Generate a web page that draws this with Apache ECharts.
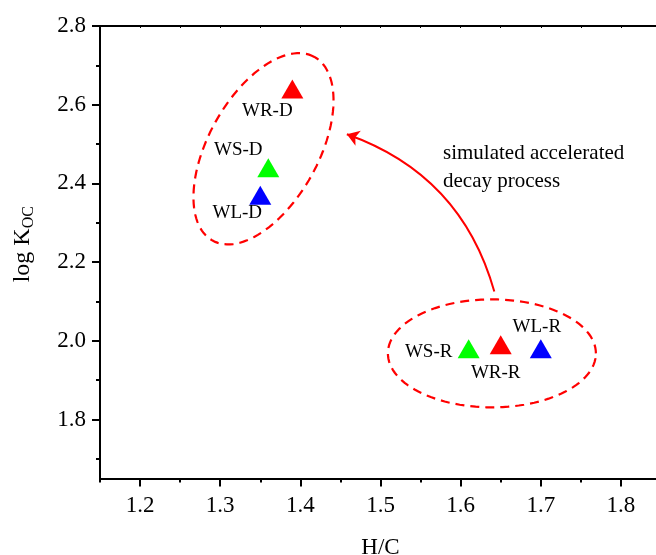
<!DOCTYPE html>
<html>
<head>
<meta charset="utf-8">
<script src="https://cdn.jsdelivr.net/npm/echarts@6/dist/echarts.min.js"></script>
<style>
html,body{margin:0;padding:0;background:#fff;}
#chart{width:656px;height:555px;}
</style>
</head>
<body>
<div id="chart"></div>
<script>
// ---- data ----
const sampleNames = ['WR-D', 'WS-D', 'WL-D', 'WS-R', 'WR-R', 'WL-R'];
const hcValues    = [1.39, 1.36, 1.35, 1.61, 1.65, 1.70];
const logKocValues = [2.64, 2.44, 2.37, 1.98, 1.99, 1.98];
const xTickLabels = ['1.2', '1.3', '1.4', '1.5', '1.6', '1.7', '1.8'];
const yTickLabels = ['1.8', '2.0', '2.2', '2.4', '2.6', '2.8'];
const groupCenters = [[1.354, 2.488], [1.639, 1.968]];   // dashed ellipses (data coords)
const arrowPath = [[1.642, 2.125], [1.458, 2.525]];       // decay arrow (data coords)
const noteAnchor = [1.578, 2.44];
const noteText = 'simulated accelerated\ndecay process';

// ---- styles ----
const markerColors = ['#ff0000', '#00ff00', '#0000ff', '#00ff00', '#ff0000', '#0000ff'];
const labelOffsets = [[-25, 22], [-30, -18], [-23, 18], [-40, 3], [-5, 28], [-4, -22]];
const ellipseShapes = [{rx: 105, ry: 55, rot: 61}, {rx: 104, ry: 54, rot: 0}];
const FONT = 'Liberation Serif';

// layout (pixels)
const L = 100, T = 26, W = 561, H = 452.5;
const XMIN = 1.15, XMAX = 1.85, YMIN = 1.65, YMAX = 2.8;
const pxX = W / (XMAX - XMIN), pxY = H / (YMAX - YMIN);

const chart = echarts.init(document.getElementById('chart'), null, {renderer: 'canvas'});

const blackLine = {show: true, lineStyle: {color: '#000', width: 2}};
const hidden = {show: false};

const scatterData = sampleNames.map((n, i) => ({
  name: n,
  value: [hcValues[i], logKocValues[i]],
  itemStyle: {color: markerColors[i], opacity: 1},
  label: {offset: labelOffsets[i]}
}));

const gridBase = {containLabel: false, outerBoundsMode: 'none'};

const option = {
  animation: false,
  backgroundColor: '#fff',
  grid: [
    Object.assign({left: L, top: T, width: W, height: H}, gridBase),
    Object.assign({left: L + (1.2 - XMIN) * pxX, top: T, width: (1.8 - 1.2) * pxX, height: H}, gridBase),
    Object.assign({left: L, top: T + (YMAX - 2.8) * pxY, width: W, height: (2.8 - 1.8) * pxY}, gridBase),
    Object.assign({left: L, top: T + (YMAX - 2.7) * pxY, width: W, height: (2.7 - 1.7) * pxY}, gridBase)
  ],
  xAxis: [
    {gridIndex: 0, type: 'value', min: XMIN, max: XMAX, interval: 0.1, position: 'bottom',
     axisLine: blackLine, axisTick: {show: true, length: 4, lineStyle: {color: '#000', width: 2}},
     axisLabel: hidden, splitLine: hidden,
     name: 'H/C', nameLocation: 'middle', nameGap: 58,
     nameTextStyle: {fontFamily: FONT, fontSize: 23, color: '#000'}},
    {gridIndex: 0, type: 'value', min: XMIN, max: XMAX, interval: 0.05, position: 'top',
     axisLine: blackLine, axisTick: {show: true, inside: true, length: 2, lineStyle: {color: '#000', width: 1}},
     axisLabel: hidden, splitLine: hidden},
    {gridIndex: 1, type: 'value', min: 1.2, max: 1.8, interval: 0.1,
     axisLine: hidden, axisTick: {show: true, length: 8, lineStyle: {color: '#000', width: 2}},
     axisLabel: {show: true, margin: 16, fontFamily: FONT, fontSize: 23, color: '#000',
                 formatter: (v) => xTickLabels[Math.round((v - 1.2) / 0.1)] || ''},
     splitLine: hidden},
    {gridIndex: 2, type: 'value', show: false},
    {gridIndex: 3, type: 'value', show: false}
  ],
  yAxis: [
    {gridIndex: 0, type: 'value', min: YMIN, max: YMAX,
     axisLine: blackLine, axisTick: hidden, axisLabel: hidden, splitLine: hidden,
     name: '{a|log K}{b|OC}', nameLocation: 'middle', nameGap: 63, nameRotate: 90,
     nameTextStyle: {padding: [0, 0, 0, 16], rich: {
       a: {fontFamily: FONT, fontSize: 24, color: '#000'},
       b: {fontFamily: FONT, fontSize: 16, color: '#000', verticalAlign: 'bottom', padding: [12, 0, 0, 0]}
     }}},
    {gridIndex: 1, type: 'value', show: false},
    {gridIndex: 2, type: 'value', min: 1.8, max: 2.8, interval: 0.2,
     axisLine: hidden, axisTick: {show: true, length: 8, lineStyle: {color: '#000', width: 2}},
     axisLabel: {show: true, margin: 14, fontFamily: FONT, fontSize: 23, color: '#000',
                 formatter: (v) => yTickLabels[Math.round((v - 1.8) / 0.2)] || ''},
     splitLine: hidden},
    {gridIndex: 3, type: 'value', min: 1.7, max: 2.7, interval: 0.2,
     axisLine: hidden, axisTick: {show: true, length: 4, lineStyle: {color: '#000', width: 2}},
     axisLabel: hidden, splitLine: hidden}
  ],
  series: [
    {
      type: 'custom', xAxisIndex: 0, yAxisIndex: 0, silent: true, clip: false, z: 2,
      data: groupCenters.map((c, i) => [c[0], c[1], i]),
      renderItem: function (params, api) {
        const c = api.coord([api.value(0), api.value(1)]);
        const s = ellipseShapes[api.value(2)];
        const r = s.rot * Math.PI / 180;
        const pts = [];
        const N = 120;
        for (let k = 0; k <= N; k++) {
          const t = k / N * Math.PI * 2;
          const ex = s.rx * Math.cos(t), ey = s.ry * Math.sin(t);
          pts.push([c[0] + ex * Math.cos(r) - ey * Math.sin(r), c[1] - (ex * Math.sin(r) + ey * Math.cos(r))]);
        }
        return {type: 'polyline', shape: {points: pts},
                style: {stroke: '#ff0000', lineWidth: 2.2, lineDash: [9, 6], fill: null}};
      }
    },
    {
      type: 'lines', coordinateSystem: 'cartesian2d', xAxisIndex: 0, yAxisIndex: 0, z: 3,
      symbol: ['none', 'arrow'], symbolSize: 12,
      lineStyle: {color: '#ff0000', width: 2, curveness: -0.26, opacity: 1},
      data: [{coords: arrowPath}]
    },
    {
      type: 'custom', xAxisIndex: 0, yAxisIndex: 0, silent: true, clip: false, z: 3,
      data: [noteAnchor],
      renderItem: function (params, api) {
        const c = api.coord([api.value(0), api.value(1)]);
        return {type: 'text', x: c[0], y: c[1],
                style: {text: noteText, fontFamily: FONT, fontSize: 21, fill: '#000',
                        align: 'left', verticalAlign: 'middle', lineHeight: 28}};
      }
    },
    {
      type: 'scatter', xAxisIndex: 0, yAxisIndex: 0, z: 5,
      symbol: 'triangle', symbolSize: [22, 19],
      itemStyle: {opacity: 1},
      label: {show: true, position: 'inside', formatter: '{b}', fontFamily: FONT, fontSize: 19,
              color: '#000', align: 'center', verticalAlign: 'middle'},
      emphasis: {disabled: true},
      data: scatterData
    }
  ]
};
chart.setOption(option);
</script>
</body>
</html>
